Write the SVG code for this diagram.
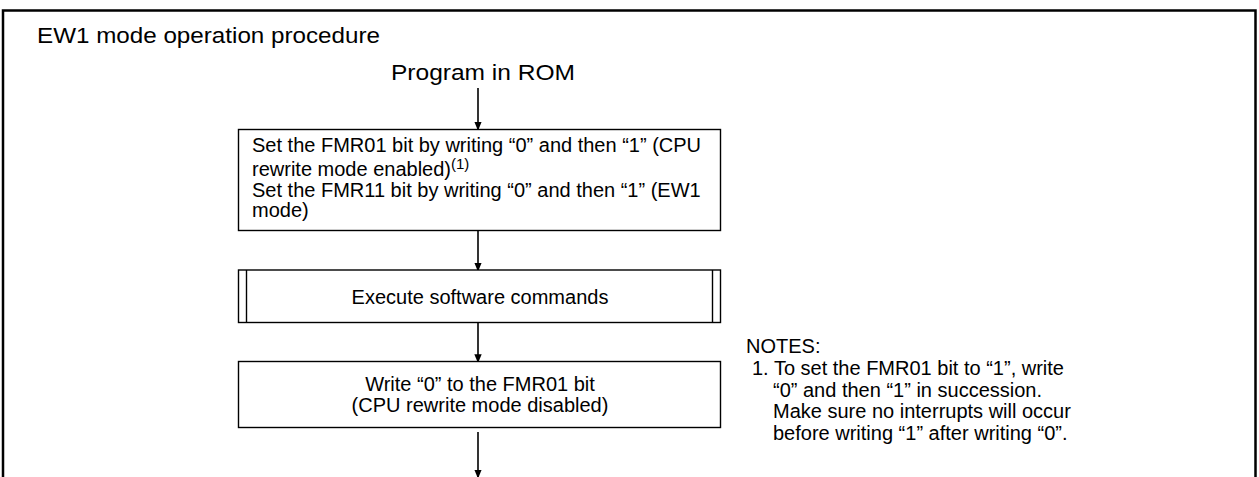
<svg xmlns="http://www.w3.org/2000/svg" width="1259" height="477" viewBox="0 0 1259 477">
<style>
text{font-family:"Liberation Sans",Arial,sans-serif;font-size:20px;fill:#000}
.big{font-size:22px}
.box{fill:#fff;stroke:#000;stroke-width:1.4}
.conn{stroke:#000;stroke-width:1.6;fill:none}
</style>
<defs>
<marker id="arr" markerWidth="9" markerHeight="11" refX="9" refY="4.5" orient="auto" markerUnits="userSpaceOnUse" viewBox="0 0 11 9">
<path d="M0,0 L11,4.5 L0,9 Z" fill="#000"/>
</marker>
</defs>
<rect width="1259" height="477" fill="#fff"/>
<path d="M3,480 V10.5 H1255.5 V480" fill="none" stroke="#000" stroke-width="2.5"/>
<text class="big" x="37" y="42.5" textLength="343" lengthAdjust="spacingAndGlyphs">EW1 mode operation procedure</text>
<g id="start">
<text class="big" x="391" y="80" textLength="184" lengthAdjust="spacingAndGlyphs">Program in ROM</text>
</g>
<g id="connectors">
<line class="conn" x1="478" y1="88" x2="478" y2="129" marker-end="url(#arr)"/>
<line class="conn" x1="478" y1="231" x2="478" y2="270" marker-end="url(#arr)"/>
<line class="conn" x1="478" y1="323" x2="478" y2="361.5" marker-end="url(#arr)"/>
<line class="conn" x1="478" y1="432" x2="478" y2="477" marker-end="url(#arr)"/>
</g>
<g id="node1">
<rect class="box" x="238.5" y="129.5" width="482" height="101"/>
<text x="252" y="152">Set the FMR01 bit by writing “0” and then “1” (CPU</text>
<text x="252" y="176">rewrite mode enabled)<tspan dy="-7" style="font-size:15px">(1)</tspan></text>
<text x="252" y="197">Set the FMR11 bit by writing “0” and then “1” (EW1</text>
<text x="252" y="217">mode)</text>
</g>
<g id="node2">
<rect class="box" x="238.5" y="270" width="482" height="52.5"/>
<line x1="246.5" y1="270" x2="246.5" y2="322.5" stroke="#000" stroke-width="1.4"/>
<line x1="712.5" y1="270" x2="712.5" y2="322.5" stroke="#000" stroke-width="1.4"/>
<text x="480" y="304" text-anchor="middle">Execute software commands</text>
</g>
<g id="node3">
<rect class="box" x="238.5" y="361.5" width="482" height="66"/>
<text x="480" y="390.5" text-anchor="middle">Write “0” to the FMR01 bit</text>
<text x="480" y="412" text-anchor="middle">(CPU rewrite mode disabled)</text>
</g>
<g id="notes">
<text x="746" y="353">NOTES:</text>
<text x="752" y="375">1. To set the FMR01 bit to “1”, write</text>
<text x="773" y="397">“0” and then “1” in succession.</text>
<text x="773" y="418">Make sure no interrupts will occur</text>
<text x="773" y="440">before writing “1” after writing “0”.</text>
</g>
</svg>
